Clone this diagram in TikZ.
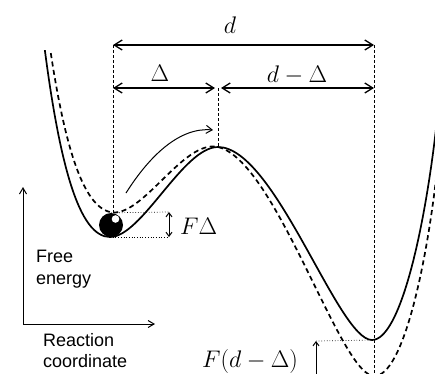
\RequirePackage{fix-cm}
\documentclass[tikz,border=0pt]{standalone}
\usepackage[no-math]{fontspec}
\newfontfamily\labelfont{Liberation Sans}
\usepackage{tikz}
\usetikzlibrary{arrows.meta,positioning,calc}

% free energy profile, in pixel units, y downwards
\def\landscape{(40,10) .. controls (58,170) and (80,237) .. (110,237)
  .. controls (142,237) and (183,147) .. (218,147)
  .. controls (275,147) and (338,340) .. (372,340)
  .. controls (400,340) and (425,230) .. (437,120)}

\begin{document}
\begin{tikzpicture}[x=1pt,y=-1pt,
    dim/.style={{Straight Barb[length=8pt,width=10pt]}-{Straight Barb[length=8pt,width=10pt]}, line width=1.3pt},
    smallboth/.style={{Straight Barb[length=4pt,width=6pt]}-{Straight Barb[length=4pt,width=6pt]}, line width=1pt},
    guide/.style={dash pattern=on 3pt off 2pt, line width=0.6pt},
    level/.style={dotted, line width=0.7pt},
    energy/.style={line width=1.7pt},
    axis/.style={line width=1pt},
    lab/.style={font=\fontsize{24}{28}\selectfont, inner sep=0pt},
    txt/.style={font=\labelfont\fontsize{18}{21.5}\selectfont, align=left, inner sep=0pt, anchor=north west}]
  \useasboundingbox (0,0) rectangle (435,373);
  \clip (0,0) rectangle (435,373);

  \coordinate (well) at (110,237);
  \coordinate (barrier) at (218,147);
  \coordinate (trap) at (372,340);

  % the two profiles, the dashed one tilted by the force
  \begin{scope}
    \clip (0,50) rectangle (435,373);
    \draw[energy] \landscape;
    \begin{scope}[shift={(218,0)}, yslant=-0.2315, shift={(-218,0)}]
      \draw[energy, dash pattern=on 5pt off 3.5pt] \landscape;
    \end{scope}
  \end{scope}

  \node[circle, fill=black, minimum size=24pt, inner sep=0pt] (ball) at (111,225) {};
  \fill[white] ($(ball.center)+(4.5,-6)$) circle (3.8);

  % distances
  \coordinate (dL) at (113,45);
  \coordinate (dR) at (374,45);
  \coordinate (sL) at (113,88);
  \coordinate (sM) at (218,88);
  \coordinate (sR) at (374,88);
  \coordinate (floor) at (374,380);
  \draw[guide] (dL) -- (dL |- ball.north);
  \draw[guide] (sM) -- (barrier);
  \draw[guide] (dR) -- (floor);
  \draw[dim] (dL) -- (dR);
  \draw[dim] (sL) -- ($(sM)+(-3,0)$);
  \draw[dim] ($(sM)+(3,0)$) -- (sR);
  \node[lab] (dlab) at (230,25) {$d$};
  \node[lab] (slab) at (160,73) {$\Delta$};
  \node[lab] (rlab) at (297,75) {$d-\Delta$};

  % hop over the barrier
  \coordinate (hop0) at (126,193);
  \coordinate (hop1) at (213,130);
  \draw[line width=1pt, -{Straight Barb[length=6pt,width=8pt]}] (hop0) .. controls (150,155) and (180,127) .. (hop1);

  % energy shifts
  \coordinate (fa) at (169,212);
  \coordinate (fb) at (169,237);
  \draw[level] (ball.north) -- (fa);
  \draw[level] (well) -- (fb);
  \draw[smallboth] (fa) -- (fb);
  \node[lab, anchor=west] (flab) at (180,226) {$F\Delta$};

  \coordinate (ga) at (316,341);
  \coordinate (gb) at (316,385);
  \draw[level] (ga) -- (trap);
  \draw[smallboth] (ga) -- (gb);
  \node[lab] (glab) at (250,361) {$F(d-\Delta)$};

  % axes
  \coordinate (origin) at (23,324);
  \coordinate (fe) at (23,187);
  \coordinate (rc) at (155,324);
  \draw[axis, {Straight Barb[length=6pt,width=7pt]}-{Straight Barb[length=6pt,width=7pt]}] (fe) -- (origin) -- (rc);
  \node[txt] (fetext) at (36,250) {Free\\energy};
  \node[txt] (rctext) at (43,333) {Reaction\\coordinate};
\end{tikzpicture}
\end{document}
